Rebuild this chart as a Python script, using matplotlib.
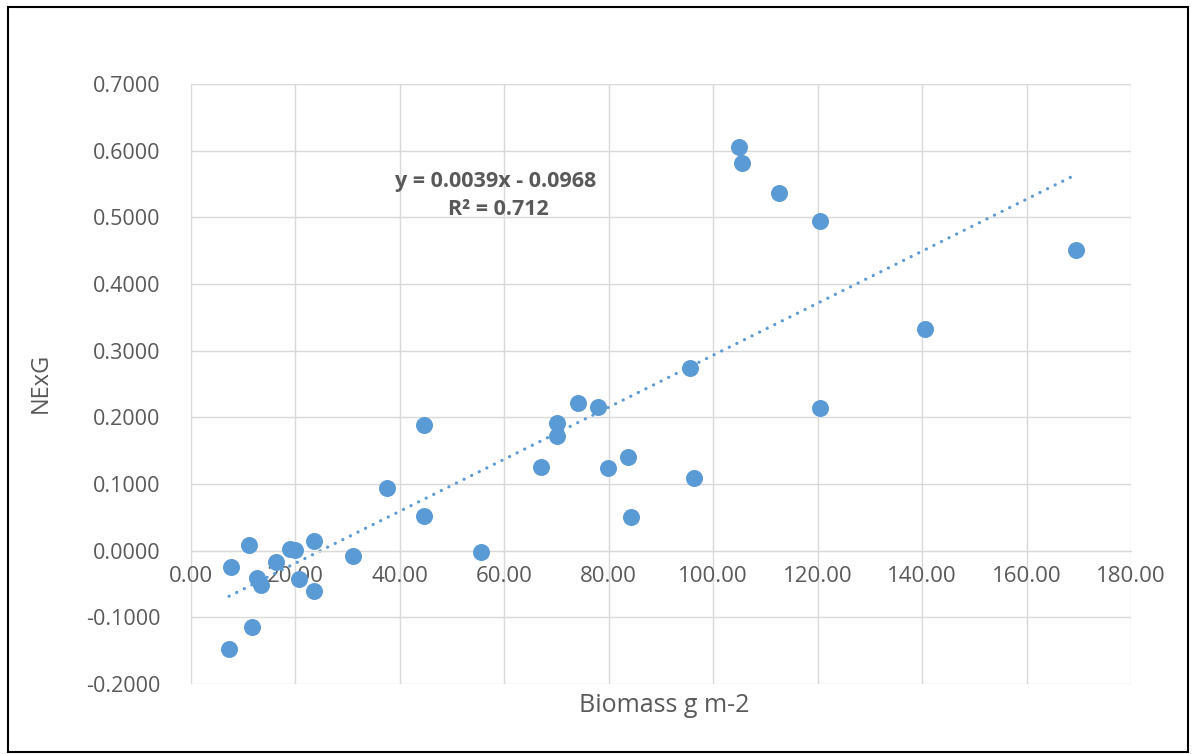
import matplotlib
matplotlib.use("Agg")
from matplotlib import pyplot as plt
from matplotlib.patches import Rectangle
import numpy as np

# biomass (g m-2) and NExG
biomass = [11.2, 7.6, 16.3, 19.0, 19.9, 23.6, 12.7, 13.5, 20.7, 23.6, 31.1,
           11.6, 7.3, 37.5, 44.6, 44.6, 55.5, 67.0, 70.1, 70.1, 74.1, 77.9,
           79.9, 83.7, 84.3, 95.6, 96.3, 104.9, 105.5, 112.6, 120.5, 120.5,
           140.6, 169.5]
nexg = [0.0086, -0.025, -0.0165, 0.0026, 0.001, 0.0146, -0.041, -0.052,
        -0.043, -0.060, -0.008, -0.115, -0.148, 0.0937, 0.188, 0.052, -0.002,
        0.125, 0.191, 0.172, 0.221, 0.215, 0.124, 0.1405, 0.050, 0.274, 0.109,
        0.605, 0.581, 0.536, 0.494, 0.214, 0.333, 0.451]

# trendline as shown on the chart
slope = 0.0039
intercept = -0.0968
r2 = 0.712

xticks = np.arange(0, 181, 20)
yticks = np.arange(-0.2, 0.71, 0.1)

plt.rcParams['font.family'] = ['Open Sans', 'DejaVu Sans']
grey = "#595959"
blue = "#5b9bd5"

fig = plt.figure(figsize=(11.92, 7.54), dpi=100)
ax = fig.add_axes([0.1602, 0.0928, 0.7886, 0.7958])

ax.scatter(biomass, nexg, s=150, color=blue, zorder=3, linewidths=0)

tx = np.array([min(biomass), max(biomass)])
ax.plot(tx, slope * tx + intercept, color=blue, lw=2.3, ls=(0, (0.05, 2.6)),
        dash_capstyle="round", zorder=2)

ax.set_xlim(0, 180)
ax.set_ylim(-0.2, 0.7)
ax.set_xticks(xticks)
ax.set_yticks(yticks)
ax.set_xticklabels([f"{v:.2f}" for v in xticks])
ax.set_yticklabels([f"{v:.4f}" for v in yticks])
ax.grid(True, color="#d9d9d9", lw=1)
ax.set_axisbelow(True)

for side in ["top", "right", "left"]:
    ax.spines[side].set_visible(False)
ax.spines["bottom"].set_position(("data", 0))
ax.spines["bottom"].set_color("#d9d9d9")
ax.tick_params(axis="x", length=0, labelsize=16, labelcolor=grey, pad=11)
ax.tick_params(axis="y", length=0, labelsize=15.5, labelcolor=grey, pad=22)

fig.text(0.034, 0.492, "NExG", fontsize=17, color=grey, rotation=90,
         ha="center", va="center")
fig.text(0.557, 0.064, "Biomass g m-2", fontsize=18, color=grey,
         ha="center", va="center")

ax.text(58.3, 0.5535, f"y = {slope}x - {abs(intercept)}", fontsize=15.5,
        fontweight="bold", color=grey, ha="center", va="center")
ax.text(58.8, 0.5125, f"R² = {r2}", fontsize=15.5,
        fontweight="bold", color=grey, ha="center", va="center")

fig.patches.append(Rectangle((0.007, 0.003), 0.99, 0.988, transform=fig.transFigure,
                             fill=False, edgecolor="black", lw=1.5))

fig.savefig("out.png", dpi=100)
